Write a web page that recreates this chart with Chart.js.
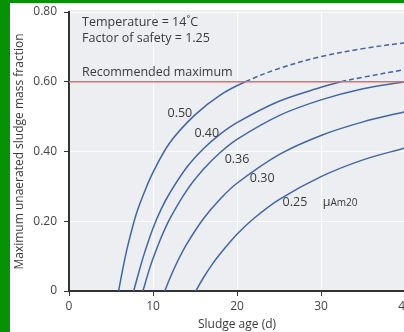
<!DOCTYPE html>
<html>
<head>
<meta charset="utf-8">
<script src="https://cdn.jsdelivr.net/npm/chart.js@4"></script>
<style>
  html, body { margin: 0; padding: 0; background: #079107; overflow: hidden; width: 404px; height: 332px; }
  #wrap { position: absolute; left: 10px; top: 3px; width: 420px; height: 329px; background: #fff; }
</style>
</head>
<body>
<div id="wrap"><canvas id="myChart" width="420" height="329"></canvas></div>
<script>
// 곡선 데이터
const muLabels = ["0.50", "0.40", "0.36", "0.30", "0.25"];

const age050 = [5.9, 6.5, 7, 8, 9, 10, 12, 15, 18, 21, 25, 30, 35, 40];
const frac050 = [0, 0.075, 0.13, 0.22, 0.285, 0.34, 0.425, 0.505, 0.562, 0.6, 0.638, 0.672, 0.695, 0.712];

const age040 = [7.7, 8.5, 9, 10, 11, 12, 14, 16, 18, 20, 25, 30, 32.4, 35, 40];
const frac040 = [0, 0.07, 0.11, 0.18, 0.236, 0.281, 0.354, 0.408, 0.45, 0.483, 0.544, 0.584, 0.6, 0.613, 0.635];

const age036 = [8.8, 9.5, 10, 11, 12, 14, 16, 18, 20, 25, 30, 35, 40];
const frac036 = [0, 0.057, 0.093, 0.155, 0.207, 0.288, 0.349, 0.397, 0.435, 0.503, 0.548, 0.58, 0.6];

const age030 = [11.4, 12, 13, 14, 16, 18, 20, 25, 30, 35, 40];
const frac030 = [0, 0.036, 0.089, 0.134, 0.207, 0.264, 0.309, 0.391, 0.446, 0.485, 0.514];

const age025 = [15.1, 16, 17, 18, 20, 22, 25, 30, 35, 40];
const frac025 = [0, 0.038, 0.075, 0.107, 0.163, 0.208, 0.262, 0.328, 0.376, 0.41];

const recommendedMax = 0.6;
const xTicks = [0, 10, 20, 30, 40];
const yTicks = [0, 0.2, 0.4, 0.6, 0.8];

// 라벨 위치 (데이터 좌표)
const labelAge = [13.2, 16.4, 20.0, 23.0, 26.9];
const labelFrac = [0.51, 0.453, 0.378, 0.324, 0.255];

const ageSets = [age050, age040, age036, age030, age025];
const fracSets = [frac050, frac040, frac036, frac030, frac025];

const curveColor = "#4166a6";
const textColor = "#3a3a3a";
const FONT = "'Open Sans', sans-serif";

const toPoints = (xs, ys) => xs.map((x, i) => ({ x: x, y: ys[i] }));

const datasets = ageSets.map((xs, k) => ({
  label: muLabels[k],
  data: toPoints(xs, fracSets[k]),
  borderColor: curveColor,
  borderWidth: 1.5,
  pointRadius: 0,
  tension: 0.35,
  segment: {
    borderDash: (ctx) =>
      ctx.p0.parsed.y >= recommendedMax - 1e-6 && ctx.p1.parsed.y >= recommendedMax - 1e-6
        ? [5, 3]
        : undefined,
  },
}));

datasets.unshift({
  label: "Recommended maximum",
  data: [
    { x: xTicks[0], y: recommendedMax },
    { x: xTicks[xTicks.length - 1], y: recommendedMax },
  ],
  borderColor: "#e46b6b",
  borderWidth: 1.6,
  pointRadius: 0,
});

// 배경 + 텍스트 플러그인
const plotDecor = {
  id: "plotDecor",
  beforeDraw(chart) {
    const { ctx, chartArea } = chart;
    ctx.save();
    ctx.fillStyle = "#eceef1";
    ctx.fillRect(chartArea.left, chartArea.top - 2, chartArea.right - chartArea.left, chartArea.bottom - chartArea.top + 2);
    ctx.restore();
  },
  afterDatasetsDraw(chart) {
    const { ctx } = chart;
    const xs = chart.scales.x;
    const ys = chart.scales.y;
    ctx.save();
    ctx.fillStyle = textColor;
    ctx.textBaseline = "middle";
    ctx.font = "12.5px " + FONT;
    ctx.textAlign = "left";
    ctx.fillText("Temperature = 14˚C", xs.getPixelForValue(1.55), ys.getPixelForValue(0.771));
    ctx.fillText("Factor of safety = 1.25", xs.getPixelForValue(1.55), ys.getPixelForValue(0.723));
    ctx.fillText("Recommended maximum", xs.getPixelForValue(1.55), ys.getPixelForValue(0.628));

    ctx.textAlign = "center";
    muLabels.forEach((t, i) => {
      ctx.fillText(t, xs.getPixelForValue(labelAge[i]), ys.getPixelForValue(labelFrac[i]));
    });

    // μAm20
    ctx.textAlign = "left";
    const mx = xs.getPixelForValue(30.2);
    const my = ys.getPixelForValue(0.255);
    ctx.fillText("μ", mx, my);
    const w = ctx.measureText("μ").width;
    ctx.font = "10px " + FONT;
    ctx.fillText("Am20", mx + w, my + 1);
    ctx.restore();
  },
};

const ctx = document.getElementById("myChart").getContext("2d");
const myChart = new Chart(ctx, {
  type: "line",
  data: { datasets: datasets },
  options: {
    responsive: false,
    animation: false,
    layout: { padding: { top: 9, right: 25, left: 0, bottom: 0 } },
    plugins: {
      legend: { display: false },
      tooltip: { enabled: false },
    },
    scales: {
      x: {
        type: "linear",
        min: xTicks[0],
        max: xTicks[xTicks.length - 1],
        afterBuildTicks: (scale) => {
          scale.ticks = xTicks.map((v) => ({ value: v }));
        },
        afterFit: (scale) => {
          scale.height = 41;
        },
        ticks: { color: "#444", font: { family: FONT, size: 12 }, padding: 3 },
        grid: { color: "rgba(255,255,255,0.85)", tickColor: "#333", tickLength: 5 },
        border: { color: "#333", width: 2 },
        title: {
          display: true,
          text: "Sludge age (d)",
          color: textColor,
          font: { family: FONT, size: 12 },
          padding: { top: 0, bottom: 0 },
        },
      },
      y: {
        type: "linear",
        min: yTicks[0],
        max: yTicks[yTicks.length - 1],
        afterBuildTicks: (scale) => {
          scale.ticks = yTicks.map((v) => ({ value: v }));
        },
        afterFit: (scale) => {
          scale.width = 59;
          scale.paddingTop = 0;
          scale.paddingBottom = 0;
        },
        ticks: {
          color: "#444",
          font: { family: FONT, size: 12 },
          padding: 7,
          callback: (v) => (v === 0 ? "0" : Number(v).toFixed(2)),
        },
        grid: { color: "rgba(255,255,255,0.85)", tickColor: "#333", tickLength: 5 },
        border: { color: "#333", width: 2 },
        title: {
          display: true,
          text: "Maximum unaerated sludge mass fraction",
          color: textColor,
          font: { family: FONT, size: 12 },
          padding: { top: 2, bottom: 0 },
        },
      },
    },
  },
  plugins: [plotDecor],
});
</script>
</body>
</html>
